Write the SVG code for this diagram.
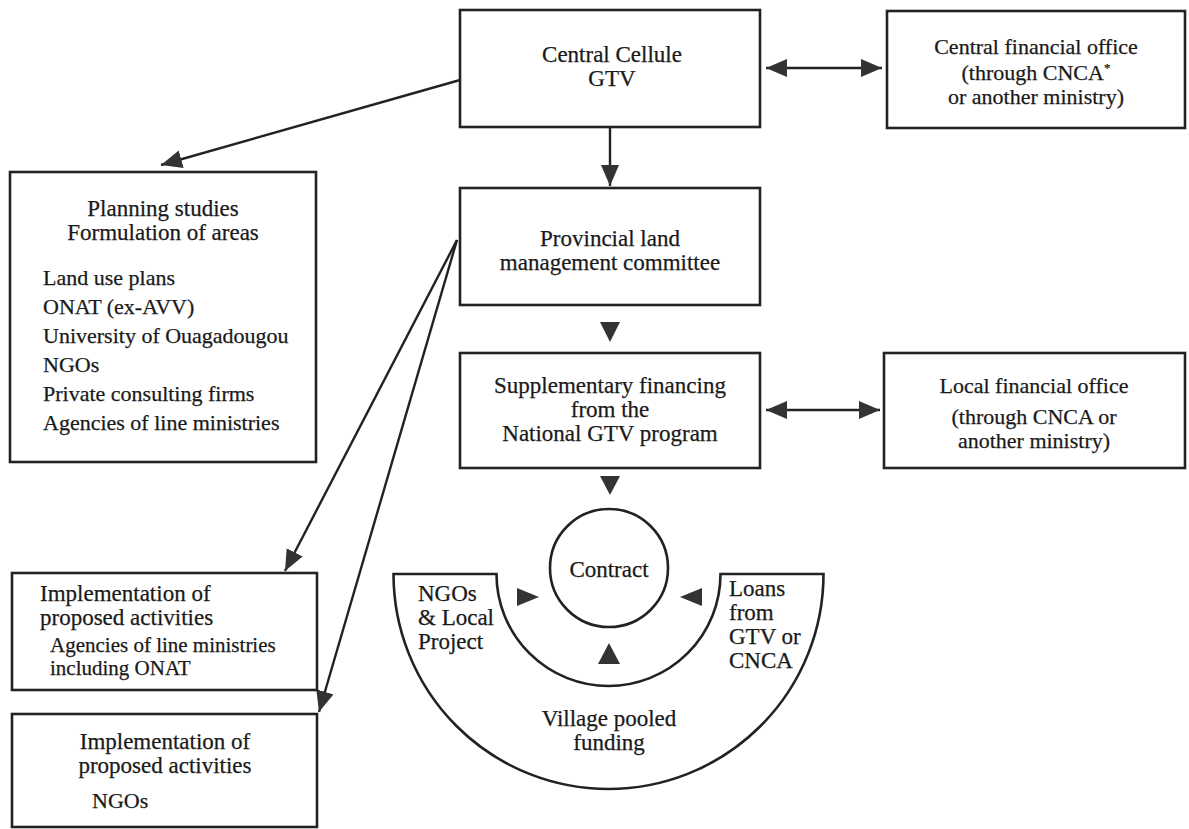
<svg xmlns="http://www.w3.org/2000/svg" width="1189" height="829" viewBox="0 0 1189 829">
<defs>
<style>
.box{fill:none;stroke:#222;stroke-width:2.6}
.ln{fill:none;stroke:#222;stroke-width:2.4}
.tri{fill:#333;stroke:none}
text{font-family:"Liberation Serif","Times New Roman",serif;font-size:23px;fill:#1a1a1a;stroke:#1a1a1a;stroke-width:0.25}
.c{text-anchor:middle}
.s{font-size:22px}
.t{font-size:21px}
</style>
<marker id="ah" markerWidth="24" markerHeight="20" refX="21" refY="9" orient="auto-start-reverse" markerUnits="userSpaceOnUse">
<path d="M0,0 L21,9 L0,18 z" fill="#333"/>
</marker>
</defs>
<rect width="1189" height="829" fill="#ffffff"/>

<g id="connectors">
<line class="ln" x1="460" y1="80" x2="161" y2="165" marker-end="url(#ah)"/>
<line class="ln" x1="610" y1="127" x2="610" y2="186" marker-end="url(#ah)"/>
<line class="ln" x1="457" y1="240" x2="285" y2="571" marker-end="url(#ah)"/>
<line class="ln" x1="457" y1="240" x2="319" y2="712" marker-end="url(#ah)"/>
<line class="ln" x1="766" y1="68" x2="882" y2="68" marker-start="url(#ah)" marker-end="url(#ah)"/>
<line class="ln" x1="766" y1="410" x2="880" y2="410" marker-start="url(#ah)" marker-end="url(#ah)"/>
<polygon class="tri" points="600,322 620,322 610,342"/>
<polygon class="tri" points="600,476 620,476 610,495"/>
<polygon class="tri" points="517,588 517,606 539,597"/>
<polygon class="tri" points="702,588 702,606 680,597"/>
<polygon class="tri" points="598,664 620,664 609,643"/>
</g>

<g id="central-cellule">
<rect class="box" x="460" y="10" width="300" height="117"/>
<text class="c" x="612" y="62">Central Cellule</text>
<text class="c" x="612" y="86">GTV</text>
</g>

<g id="central-financial-office">
<rect class="box" x="887" y="11" width="298" height="117"/>
<text class="c s" x="1036" y="54">Central financial office</text>
<text class="c s" x="1036" y="80">(through CNCA<tspan font-size="13" dy="-8">*</tspan></text>
<text class="c s" x="1036" y="104">or another ministry)</text>
</g>

<g id="planning-studies">
<rect class="box" x="10" y="172" width="306" height="290"/>
<text class="c" x="163" y="216">Planning studies</text>
<text class="c" x="163" y="240">Formulation of areas</text>
<text class="s" x="43" y="285">Land use plans</text>
<text class="s" x="43" y="314">ONAT (ex-AVV)</text>
<text class="s" x="43" y="343">University of Ouagadougou</text>
<text class="s" x="43" y="372">NGOs</text>
<text class="s" x="43" y="401">Private consulting firms</text>
<text class="s" x="43" y="430">Agencies of line ministries</text>
</g>

<g id="provincial-committee">
<rect class="box" x="460" y="188" width="300" height="117"/>
<text class="c" x="610" y="246">Provincial land</text>
<text class="c" x="610" y="270">management committee</text>
</g>

<g id="supplementary-financing">
<rect class="box" x="460" y="353" width="300" height="115"/>
<text class="c" x="610" y="393">Supplementary financing</text>
<text class="c" x="610" y="417">from the</text>
<text class="c" x="610" y="441">National GTV program</text>
</g>

<g id="local-financial-office">
<rect class="box" x="884" y="353" width="301" height="115"/>
<text class="c s" x="1034" y="393">Local financial office</text>
<text class="c s" x="1034" y="424">(through CNCA or</text>
<text class="c s" x="1034" y="448">another ministry)</text>
</g>

<g id="village-pooled-funding">
<path class="box" d="M393.5,574 L496.5,574 A112,112 0 0 0 720.5,574 L823.5,574 A215,215 0 0 1 393.5,574 Z"/>
<text x="418" y="601">NGOs</text>
<text x="418" y="625">&amp; Local</text>
<text x="418" y="649">Project</text>
<text x="729" y="596">Loans</text>
<text x="729" y="620">from</text>
<text x="729" y="644">GTV or</text>
<text x="729" y="668">CNCA</text>
<text class="c" x="609" y="726">Village pooled</text>
<text class="c" x="609" y="750">funding</text>
</g>

<g id="contract">
<circle class="box" cx="609" cy="568" r="59"/>
<text class="c" x="609" y="577">Contract</text>
</g>

<g id="implementation-agencies">
<rect class="box" x="12" y="573" width="305" height="117"/>
<text x="40" y="601">Implementation of</text>
<text x="40" y="625">proposed activities</text>
<text class="t" x="50" y="652">Agencies of line ministries</text>
<text class="t" x="50" y="675">including ONAT</text>
</g>

<g id="implementation-ngos">
<rect class="box" x="12" y="714" width="305" height="113"/>
<text class="c" x="165" y="749">Implementation of</text>
<text class="c" x="165" y="773">proposed activities</text>
<text class="s" x="92" y="808">NGOs</text>
</g>
</svg>
